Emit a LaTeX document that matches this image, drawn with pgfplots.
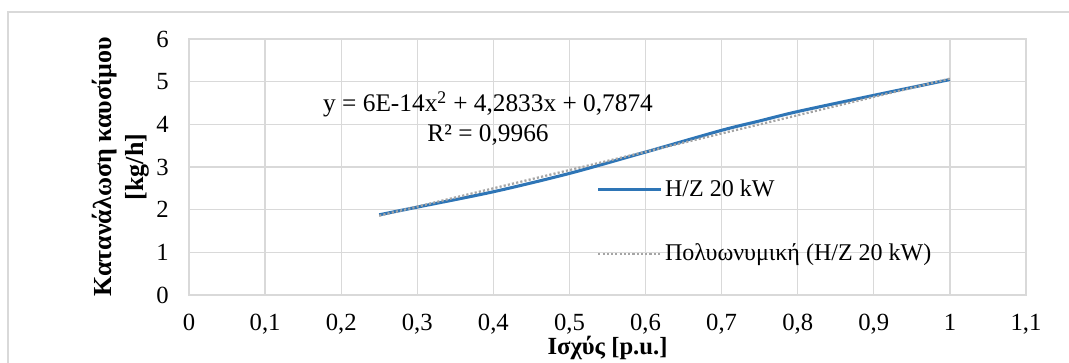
\documentclass[border=0pt]{standalone}
\usepackage{pgfplots}
\pgfplotsset{compat=1.18}
\usepackage{fontspec}
\setmainfont{Liberation Serif}
\definecolor{gridc}{HTML}{D9D9D9}
\definecolor{serblue}{HTML}{2E75B6}
\definecolor{trendc}{HTML}{A5A5A5}
\definecolor{framec}{HTML}{D9D9D9}
\begin{document}
\fontsize{18}{22}\selectfont
\begin{tikzpicture}
\begin{axis}[
  at={(141.75pt,50.25pt)}, anchor=south west,
  scale only axis, width=627.75pt, height=192pt,
  xmin=0, xmax=1.1, ymin=0, ymax=6,
  xtick={0,0.1,0.2,0.3,0.4,0.5,0.6,0.7,0.8,0.9,1,1.1},
  xticklabels={0,{0,1},{0,2},{0,3},{0,4},{0,5},{0,6},{0,7},{0,8},{0,9},1,{1,1}},
  ytick={0,1,2,3,4,5,6},
  yticklabels={0,1,2,3,4,5,6},
  grid=major, grid style={draw=gridc, line width=0.9pt},
  axis line style={draw=gridc, line width=0.9pt},
  major tick length=0pt, tick style={draw=none},
  ticklabel style={font=\fontsize{18.5}{22}\selectfont},
  yticklabel style={xshift=-9pt},
  xticklabel style={yshift=-8pt},
  xlabel={Ισχύς [p.u.]},
  ylabel={Κατανάλωση καυσίμου\\{[kg/h]}},
  xlabel style={at={(axis description cs:0.5,-0.208)}, anchor=center, inner sep=0pt, font=\bfseries\fontsize{18.5}{22}\selectfont},
  ylabel style={at={(axis description cs:-0.0812,0.5)}, anchor=center, align=center, font=\bfseries\fontsize{19.5}{24}\selectfont},
  legend cell align=left,
  legend style={at={(axis cs:0.5355,2.77)}, anchor=north west, draw=none, fill=none,
    font=\fontsize{18}{22}\selectfont, row sep=29pt, inner sep=0pt},
  legend image code/.code={\draw[#1] (0pt,0pt) -- (47pt,0pt);},
]
\addplot[serblue, line width=2.3pt, smooth, tension=0.5] coordinates {
 (0.25,1.88) (0.3,2.06) (0.4,2.42) (0.5,2.85) (0.6,3.35) (0.7,3.86)
 (0.75,4.08) (0.8,4.30) (0.9,4.68) (1.0,5.05)};
\addlegendentry{H/Z 20 kW}
\addplot[trendc, line width=1.7pt, dash pattern=on 1.6pt off 1.6pt] coordinates {
 (0.25,1.858) (1.0,5.071)};
\addlegendentry{Πολυωνυμική (H/Z 20 kW)}
\node[align=center, font=\fontsize{19}{22}\selectfont] at (axis cs:0.393,4.14)
  {y = 6E-14x\textsuperscript{2} + 4,2833x + 0,7874\\R² = 0,9966};
\end{axis}
\draw[framec, line width=1.2pt] (6pt,-5pt) -- (6pt,262.5pt) -- (810pt,262.5pt);
\pgfresetboundingbox
\useasboundingbox (0,0) rectangle (801.75pt,271.5pt);
\end{tikzpicture}
\end{document}
